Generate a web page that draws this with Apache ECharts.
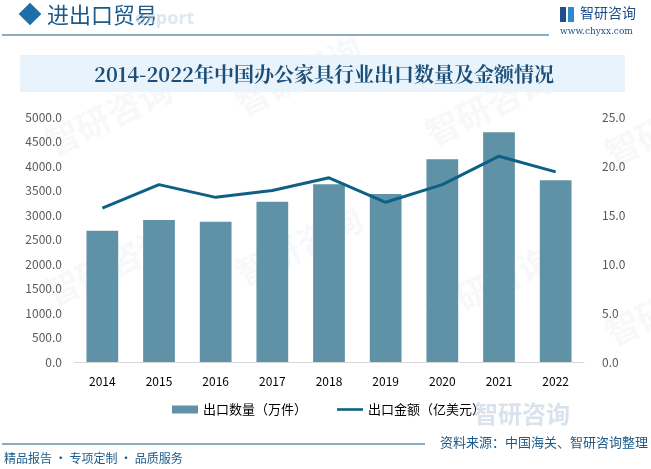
<!DOCTYPE html>
<html><head><meta charset="utf-8">
<script src="https://cdn.jsdelivr.net/npm/echarts@6/dist/echarts.min.js"></script>
<style>html,body{margin:0;padding:0;background:#fff}#c{width:651px;height:469px}</style>
</head><body><div id="c"></div>
<script>
var years = ['2014','2015','2016','2017','2018','2019','2020','2021','2022'];
var quantity = [2680, 2900, 2860, 3270, 3630, 3430, 4140, 4690, 3710];
var amount = [15.7, 18.1, 16.8, 17.5, 18.8, 16.3, 18.1, 21.0, 19.4];
var leftTicks = [0, 5000, 500];
var rightTicks = [0, 25, 5];
var titleText = '2014-2022年中国办公家具行业出口数量及金额情况';
var qName = '出口数量（万件）';
var aName = '出口金额（亿美元）';

var chart = echarts.init(document.getElementById('c'));
var dark = '#1b5a8a';
var wm = [];
[[40,130],[40,280],[230,90],[230,260],[420,120],[420,300],[600,140],[600,320]].forEach(function(p){
  wm.push({type:'text', x:p[0], y:p[1], rotation:Math.PI/7, silent:true, z:-1,
    style:{text:'智研咨询', fill:'rgba(180,200,215,0.12)', font:'bold 34px "Noto Sans CJK SC"'}});
});
chart.setOption({
  animation:false,
  textStyle:{fontFamily:'"Noto Sans CJK SC", "Noto Sans", sans-serif'},
  graphic: wm.concat([
    {type:'rect', shape:{x:22,y:6,width:16,height:16}, rotation:Math.PI/4, originX:30, originY:14, style:{fill:'#1e6fa8'}},
    {type:'text', x:47, y:4, style:{text:'进出口贸易', fill:dark, font:'22px "Noto Sans CJK SC"'}},
    {type:'text', x:135, y:10, style:{text:'export', fill:'rgba(190,210,225,0.5)', font:'bold 18px "Noto Sans"'}},
    {type:'line', shape:{x1:2,y1:35,x2:549,y2:35}, style:{stroke:dark, lineWidth:1.2}},
    {type:'rect', shape:{x:560,y:7,width:6,height:15}, style:{fill:'#1e4f8a'}},
    {type:'rect', shape:{x:568,y:7,width:6,height:15}, style:{fill:'#2b8ad0'}},
    {type:'text', x:580, y:6, style:{text:'智研咨询', fill:'#1e4f8a', font:'14px "Noto Sans CJK SC"'}},
    {type:'text', x:560, y:27, style:{text:'www.chyxx.com', fill:'#1e4f8a', font:'9px "DejaVu Serif"'}},
    {type:'rect', shape:{x:20,y:55,width:605,height:37}, style:{fill:'#e8f3fb'}},
    {type:'text', x:324, y:74, style:{text:titleText, fill:'#1b4e78', font:'bold 20px "Noto Serif CJK SC", "Noto Sans CJK SC"', align:'center', verticalAlign:'middle'}},
    {type:'line', shape:{x1:2,y1:444,x2:425,y2:444}, style:{stroke:dark, lineWidth:1.2}},
    {type:'text', x:4, y:452, style:{text:'精品报告 · 专项定制 · 品质服务', fill:dark, font:'12px "Noto Sans CJK SC"'}},
    {type:'text', x:648, y:436, style:{text:'资料来源：中国海关、智研咨询整理', fill:dark, font:'13px "Noto Sans CJK SC"', align:'right'}},
    {type:'text', x:474, y:402, style:{text:'智研咨询', fill:'rgba(150,175,200,0.35)', font:'bold 24px "Noto Sans CJK SC"'}}
  ]),
  grid:{left:74, right:67, top:117, bottom:107, containLabel:false},
  legend:{
    left:172, top:403, padding:0, itemGap:30, itemWidth:26, itemHeight:8,
    textStyle:{color:'#000', fontSize:13},
    data:[{name:qName, icon:'rect'}, {name:aName, icon:'path://M0,0L30,0L30,3L0,3Z'}]
  },
  xAxis:{type:'category', data:years,
    axisLine:{lineStyle:{color:'#d9d9d9'}}, axisTick:{show:false},
    axisLabel:{color:'#000', fontSize:12, margin:13}},
  yAxis:[
    {type:'value', min:leftTicks[0], max:leftTicks[1], interval:leftTicks[2],
      splitLine:{show:false}, axisLine:{show:false}, axisTick:{show:false},
      axisLabel:{color:'#595959', fontSize:12, margin:12, formatter:function(v){return v.toFixed(1);}}},
    {type:'value', min:rightTicks[0], max:rightTicks[1], interval:rightTicks[2],
      splitLine:{show:false}, axisLine:{show:false}, axisTick:{show:false},
      axisLabel:{color:'#595959', fontSize:12, margin:18, formatter:function(v){return v.toFixed(1);}}}
  ],
  series:[
    {name:qName, type:'bar', data:quantity, barCategoryGap:'44%', itemStyle:{color:'#5f91a7'}},
    {name:aName, type:'line', yAxisIndex:1, data:amount, symbol:'none', lineStyle:{color:'#0d6184', width:3}, itemStyle:{color:'#0d6184'}}
  ]
});
</script></body></html>
